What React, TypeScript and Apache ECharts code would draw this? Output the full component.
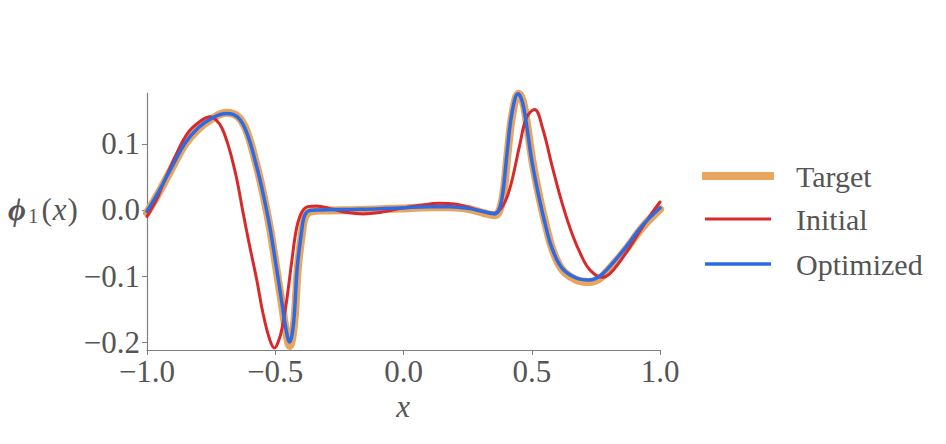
import React, { useEffect, useRef } from "react";
import * as echarts from "echarts";

const seriesNames = ["Target", "Initial", "Optimized"];
const xTicks = [-1, -0.5, 0, 0.5, 1];
const yTicks = [-0.2, -0.1, 0, 0.1];

const targetX = [-1.0, -0.957, -0.903, -0.852, -0.801, -0.747, -0.69, -0.645, -0.611, -0.572, -0.548, -0.521, -0.494, -0.474, -0.457, -0.443, -0.434, -0.424, -0.412, -0.396, -0.385, -0.365, -0.33, -0.17, -0.015, 0.102, 0.18, 0.258, 0.316, 0.355, 0.373, 0.389, 0.406, 0.425, 0.449, 0.465, 0.48, 0.503, 0.531, 0.558, 0.581, 0.62, 0.675, 0.725, 0.764, 0.803, 0.87, 0.932, 1.0];
const targetY = [-0.004, 0.024, 0.063, 0.099, 0.122, 0.138, 0.147, 0.141, 0.119, 0.066, 0.026, -0.027, -0.093, -0.143, -0.186, -0.206, -0.195, -0.162, -0.088, -0.036, -0.012, -0.003, -0.001, 0.0, 0.002, 0.004, 0.004, 0.001, -0.005, -0.008, -0.002, 0.024, 0.086, 0.146, 0.176, 0.165, 0.134, 0.073, 0.017, -0.028, -0.06, -0.091, -0.106, -0.109, -0.104, -0.089, -0.058, -0.026, 0.001];

const initialX = [-1.0, -0.96, -0.942, -0.891, -0.84, -0.786, -0.755, -0.73, -0.708, -0.685, -0.669, -0.649, -0.626, -0.599, -0.572, -0.548, -0.521, -0.503, -0.486, -0.474, -0.455, -0.435, -0.416, -0.396, -0.373, -0.34, -0.276, -0.217, -0.159, -0.093, -0.015, 0.063, 0.141, 0.2, 0.246, 0.297, 0.348, 0.367, 0.387, 0.406, 0.425, 0.453, 0.48, 0.511, 0.542, 0.581, 0.62, 0.659, 0.698, 0.725, 0.772, 0.803, 0.842, 0.881, 0.92, 0.959, 1.0];
const initialY = [-0.01, 0.018, 0.035, 0.08, 0.117, 0.136, 0.141, 0.136, 0.124, 0.1, 0.078, 0.045, -0.003, -0.056, -0.106, -0.156, -0.197, -0.209, -0.197, -0.18, -0.136, -0.076, -0.026, -0.003, 0.005, 0.006, 0.001, -0.004, -0.006, -0.004, 0.002, 0.007, 0.01, 0.009, 0.005, -0.001, -0.005, -0.003, 0.006, 0.022, 0.048, 0.098, 0.14, 0.152, 0.124, 0.064, 0.008, -0.038, -0.073, -0.09, -0.102, -0.097, -0.079, -0.057, -0.033, -0.01, 0.012];

const optimizedX = [-1.0, -0.957, -0.903, -0.852, -0.801, -0.747, -0.69, -0.645, -0.611, -0.572, -0.548, -0.521, -0.494, -0.474, -0.457, -0.444, -0.435, -0.426, -0.414, -0.398, -0.387, -0.367, -0.33, -0.17, -0.015, 0.102, 0.18, 0.258, 0.316, 0.355, 0.372, 0.387, 0.404, 0.423, 0.447, 0.463, 0.478, 0.501, 0.529, 0.556, 0.579, 0.618, 0.673, 0.723, 0.762, 0.801, 0.868, 0.93, 1.0];
const optimizedY = [-0.002, 0.026, 0.065, 0.101, 0.124, 0.139, 0.146, 0.14, 0.117, 0.065, 0.026, -0.026, -0.091, -0.141, -0.183, -0.2, -0.19, -0.16, -0.086, -0.035, -0.01, -0.001, 0.0, 0.001, 0.003, 0.005, 0.005, 0.002, -0.003, -0.006, 0.0, 0.025, 0.087, 0.147, 0.176, 0.164, 0.133, 0.073, 0.018, -0.027, -0.058, -0.088, -0.103, -0.106, -0.101, -0.087, -0.056, -0.024, 0.003];

const colors = ["#E8A55E", "#D9292B", "#2D6BE6"];
const widths = [8, 3, 3.5];

const zip = (xs: number[], ys: number[]) => xs.map((x, i) => [x, ys[i]]);
const fmt = (v: number) => (v < 0 ? "\u2212" : "") + Math.abs(v).toFixed(1);

const FONT = "Liberation Serif";
const TXT = "#555555";
const AX = "#808080";

export default function App() {
  const ref = useRef<HTMLDivElement>(null);
  useEffect(() => {
    const chart = echarts.init(ref.current!, null, { renderer: "svg" });
    const data = [zip(targetX, targetY), zip(initialX, initialY), zip(optimizedX, optimizedY)];
    const legendY = [176, 219, 264];
    const legendIconW = [72, 66, 66];
    const legendIconX = [702, 705, 705];
    chart.setOption({
      animation: false,
      backgroundColor: "#ffffff",
      grid: { left: 147, right: 286, top: 93, bottom: 94, containLabel: false },
      xAxis: {
        type: "value",
        min: -1,
        max: 1,
        interval: 0.5,
        axisLine: { show: true, onZero: false, lineStyle: { color: AX, width: 1.2 } },
        axisTick: { show: true, inside: false, length: 5, lineStyle: { color: AX } },
        splitLine: { show: false },
        axisLabel: { formatter: fmt, fontFamily: FONT, fontSize: 31, color: TXT, margin: 6 },
      },
      yAxis: {
        type: "value",
        min: -0.212,
        max: 0.177,
        axisLine: { show: true, onZero: false, lineStyle: { color: AX, width: 1.2 } },
        axisTick: { show: true, inside: false, length: 5, lineStyle: { color: AX }, customValues: yTicks },
        splitLine: { show: false },
        axisLabel: { customValues: yTicks, formatter: fmt, fontFamily: FONT, fontSize: 31, color: TXT, margin: 7 },
      },
      series: seriesNames.map((name, i) => ({
        name,
        type: "line",
        data: data[i],
        showSymbol: false,
        smooth: 0.4,
        lineStyle: { color: colors[i], width: widths[i], cap: "round", join: "round" },
        itemStyle: { color: colors[i] },
        z: 2 + i,
      })),
      graphic: [
        ...seriesNames.map((name, i) => ({
          type: "rect",
          shape: { x: legendIconX[i], y: legendY[i] - widths[i] / 2, width: legendIconW[i], height: widths[i] },
          style: { fill: colors[i] },
        })),
        ...seriesNames.map((name, i) => ({
          type: "text",
          x: 796,
          y: legendY[i],
          style: { text: name, fontFamily: FONT, fontSize: 30, fill: TXT, verticalAlign: "middle", align: "left" },
        })),
        {
          type: "text",
          x: 403,
          y: 406,
          style: { text: "x", fontFamily: FONT, fontStyle: "italic", fontSize: 31, fill: TXT, align: "center", verticalAlign: "middle" },
        },
        {
          type: "text",
          x: 8,
          y: 209,
          style: {
            text: "{phi|\u03D5}{sub|1}{p|(}{it|x}{p|)}",
            verticalAlign: "middle",
            align: "left",
            fill: TXT,
            rich: {
              phi: { fontFamily: FONT, fontSize: 31, fontWeight: "bold", fontStyle: "italic", fill: TXT },
              sub: { fontFamily: FONT, fontSize: 21, fill: TXT, padding: [14, 3, 0, 2] },
              p: { fontFamily: FONT, fontSize: 31, fill: TXT },
              it: { fontFamily: FONT, fontStyle: "italic", fontSize: 31, fill: TXT, padding: [0, 1, 0, 1] },
            },
          },
        },
      ],
    });
    return () => chart.dispose();
  }, []);
  return (
    <div
      ref={ref}
      style={{ position: "fixed", left: 0, top: 0, width: 946, height: 444, background: "#ffffff" }}
    />
  );
}
